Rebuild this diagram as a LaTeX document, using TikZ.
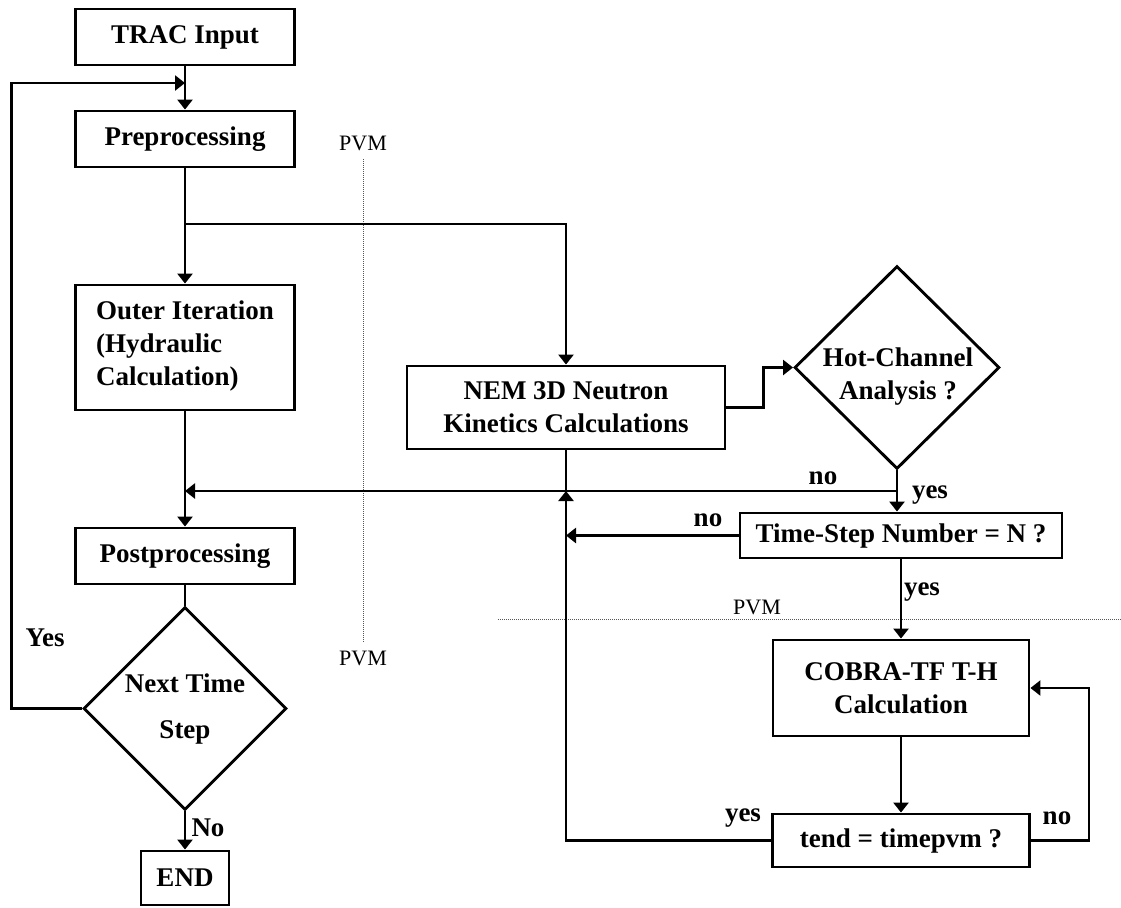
\documentclass[tikz,border=0pt]{standalone}
\usepackage{fontspec}
\setmainfont{Liberation Serif}
\usepackage{tikz}
\usetikzlibrary{arrows.meta,shapes.geometric,positioning}
\definecolor{dotgray}{HTML}{555555}

\begin{document}
\begin{tikzpicture}[x=0.5pt, y=-0.5pt, >={Triangle[width=7.5pt,length=5pt]}, line width=1.45pt,
  box/.style={draw, align=center, inner sep=0pt, font=\fontsize{13.5}{16.5}\selectfont\bfseries},
  decision/.style={draw, diamond, aspect=1, inner sep=0pt, align=center, font=\fontsize{13.5}{16.5}\selectfont\bfseries},
  lbl/.style={inner sep=0pt, font=\fontsize{13.5}{16}\selectfont\bfseries},
  pvm/.style={inner sep=3.5pt, font=\fontsize{11}{13}\selectfont},
  sep/.style={line width=0.5pt, draw=dotgray, dash pattern=on 0.5pt off 0.5pt}]
\useasboundingbox (0,0) rectangle (1121,907);
% left column: TRAC loop
\node[box, minimum width=109.5pt, minimum height=28pt] (trac) at (185,37) {TRAC Input};
\node[box, minimum width=109.5pt, minimum height=28pt] (pre) at (185,139) {Preprocessing};
\node[box, align=left, minimum width=109.5pt, minimum height=62.5pt] (outer) at (185,347.5) {Outer Iteration\\(Hydraulic\\Calculation)\\[-12.5pt]};
\node[box, minimum width=109.5pt, minimum height=28pt] (post) at (185,556) {Postprocessing};
\node[decision, minimum width=101.5pt, minimum height=101.5pt] (next) at (185,708.5) {Next Time\\[6.5pt]Step};
\node[box, minimum width=44pt, minimum height=27pt] (fin) at (185,878) {END};
% right side: neutronics and COBRA-TF
\node[box, minimum width=159pt, minimum height=41.5pt] (nem) at (566,407.5) {NEM 3D Neutron\\Kinetics Calculations};
\node[decision, minimum width=102.5pt, minimum height=101.5pt] (hot) at (897,367.5) {};
\node[lbl, align=center, font=\fontsize{13.5}{16.5}\selectfont\bfseries] (hottxt) at (898,377) {Hot-Channel\\Analysis ?};
\node[box, minimum width=161pt, minimum height=22.5pt] (tsn) at (901,535.5) {Time-Step Number = N ?};
\node[box, minimum width=128pt, minimum height=48pt] (cobra) at (901,688) {COBRA-TF T-H\\Calculation};
\node[box, minimum width=128.5pt, minimum height=26.5pt] (tend) at (901,840.5) {tend = timepvm ?};
% PVM boundaries
\node[pvm] (pvma) at (363,143) {PVM};
\node[pvm] (pvmb) at (363,658) {PVM};
\node[pvm] (pvmc) at (757,607) {PVM};
\coordinate (sepl) at (498,619);
\coordinate (sepr) at (1121,619);
\draw[sep] (pvma.south) -- (pvmb.north);
\draw[sep] (sepl) -- (sepr);
% junctions
\coordinate (loopin) at (185,83);
\coordinate (split) at (185,224);
\coordinate (merge) at (185,491);
% connectors
\draw[->] (trac) -- (pre);
\draw[->] (pre) -- (outer);
\draw[->] (split) -| (nem.north);
\draw[->] (outer) -- (post);
\draw (post) -- (next);
\draw[->] (next) -- (fin);
\draw[->] (next.west) -- ++(-71,0) |- (loopin);
\draw[->] (nem.east) -- ++(37,0) |- (hot.west);
\draw[->] (hot.south) -- (hot.south |- tsn.north);
\draw[->] (hot.south |- merge) -- (merge);
\draw (nem.south) -- (nem.south |- merge);
\draw[->] (tsn.west) -- (tsn.west -| nem.south);
\draw[->] (tend.west) -| (nem.south |- merge);
\draw[->] (tsn) -- (cobra);
\draw[->] (cobra) -- (tend);
\draw[->] (tend.east) -- ++(58,0) |- (cobra.east);
% branch labels
\node[lbl] (yesloop) at (45,638) {Yes};
\node[lbl] (noend) at (208,828) {No};
\node[lbl] (nohot) at (823,478) {no};
\node[lbl] (yeshot) at (930,495) {yes};
\node[lbl] (notsn) at (708,520) {no};
\node[lbl] (yestsn) at (922,592) {yes};
\node[lbl] (yestend) at (743,818) {yes};
\node[lbl] (notend) at (1057,818) {no};
\end{tikzpicture}
\end{document}
